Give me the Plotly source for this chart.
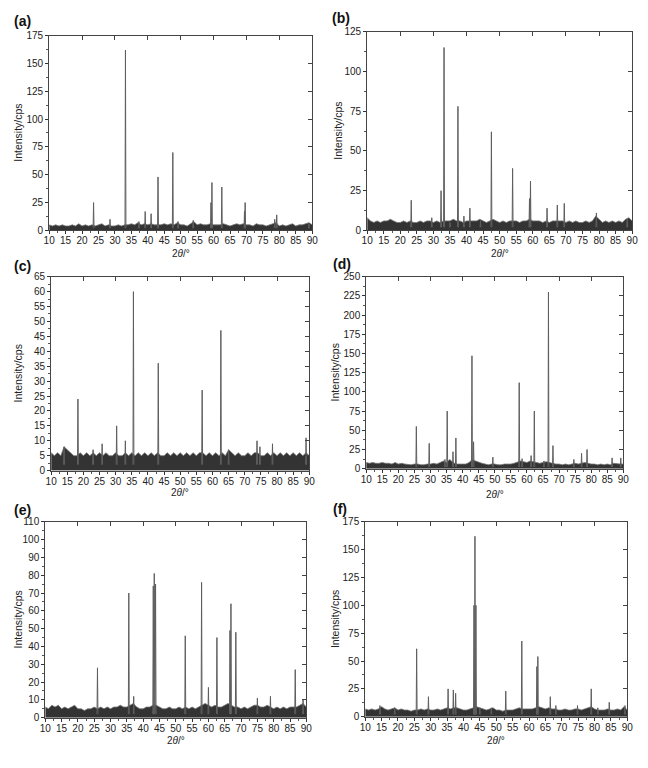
import plotly.graph_objects as go

# ---------------- data ----------------
# baseline grid (2theta, degrees) and noise-band top for each pattern
theta_grid = list(range(10, 91))

bl_a = [5,4,5,4,5,4,4,5,4,6, 4,5,4,5,4,5,6,4,5,4, 4,5,4,5,5,6,5,7,5,6,
        5,6,5,5,5,6,5,6,5,7, 5,5,4,6,8,5,6,5,5,6, 5,5,5,6,5,4,5,6,5,6,
        5,5,4,6,5,5,4,5,6,7, 4,5,4,5,6,4,5,5,6,7, 5]
bl_b = [8,6,5,6,5,6,6,7,6,5, 5,6,5,6,5,5,6,5,6,6, 5,6,5,6,6,6,7,6,6,5,
        6,6,6,6,7,6,5,6,7,6, 5,6,5,6,6,6,5,6,6,7, 6,6,6,5,6,5,6,6,6,6,
        5,6,5,6,5,5,6,5,6,9, 7,5,6,5,6,5,6,5,7,8, 6]
bl_c = [6,5,6,5,8,7,6,5,5,6, 5,6,5,6,5,6,5,6,5,5, 6,5,5,6,5,6,5,6,5,6,
        5,6,5,6,5,5,6,5,6,5, 6,5,6,5,6,5,6,6,5,6, 5,6,5,6,5,7,6,5,6,5,
        5,6,5,6,6,5,5,6,5,6, 5,6,5,6,5,6,5,6,5,6, 5]
bl_d = [8,7,8,7,7,8,7,7,6,8, 6,7,6,5,5,6,6,5,5,6, 6,7,6,8,10,8,12,8,6,6,
        6,6,8,12,10,8,7,6,5,6, 6,5,5,6,6,6,7,8,10,9, 8,10,9,8,7,8,9,8,7,6,
        6,5,6,5,6,7,6,7,8,7, 6,6,5,6,5,6,5,7,6,6, 6]
bl_e = [6,5,7,6,7,5,6,5,6,7, 5,5,4,5,5,6,5,6,5,6, 5,6,6,7,6,6,7,8,6,5,
        5,6,6,7,7,6,5,5,6,5, 5,6,5,6,5,6,5,6,7,8, 7,6,7,6,6,7,8,7,6,6,
        5,6,5,6,7,7,6,6,7,6, 5,6,5,6,5,6,6,6,7,8, 6]
bl_f = [7,6,7,6,7,9,7,6,7,8, 6,7,6,6,5,6,6,7,6,7, 6,6,7,6,7,8,7,8,8,7,
        6,6,7,8,9,8,7,6,7,8, 6,6,5,6,6,6,7,8,7,7, 7,7,8,9,8,7,8,7,7,6,
        6,7,6,6,7,7,6,7,8,9, 7,6,6,6,7,6,6,7,6,9, 6]

# reflections: position (2theta, deg) and intensity (cps)
a_pos = [23.5, 28.5, 33.2, 37.3, 39.2, 41.0, 43.1, 47.6, 49.2, 53.8, 59.2, 59.5, 62.5, 69.4, 69.6, 78.6, 79.2, 89.0]
a_int = [25, 10, 162, 8, 17, 15, 48, 70, 8, 9, 25, 43, 39, 17, 25, 10, 14, 6]

b_pos = [23.3, 29.5, 32.3, 33.2, 35.0, 37.4, 39.2, 41.0, 44.2, 47.5, 53.9, 59.0, 59.3, 64.3, 67.4, 69.5, 79.2, 88.5]
b_int = [19, 8, 25, 115, 5, 78, 9, 14, 6, 62, 39, 20, 31, 14, 16, 17, 11, 7]

c_pos = [14.0, 18.3, 23.0, 25.8, 30.3, 33.0, 35.5, 43.2, 56.8, 62.6, 65.0, 73.8, 74.7, 78.6, 89.0]
c_int = [8, 24, 7, 9, 15, 10, 60, 36, 27, 47, 7, 10, 8, 9, 11]

d_pos = [25.6, 29.6, 34.5, 35.2, 37.0, 37.9, 42.9, 43.4, 49.4, 57.6, 58.5, 61.3, 62.3, 65.3, 66.7, 68.1, 74.6, 77.0, 78.7, 86.5, 89.2]
d_int = [55, 33, 12, 75, 22, 40, 147, 35, 15, 112, 13, 17, 75, 10, 230, 30, 12, 20, 25, 14, 14]

e_pos = [26.0, 35.6, 37.1, 43.1, 43.4, 43.8, 52.9, 57.9, 60.0, 62.6, 66.6, 66.9, 68.4, 75.0, 79.0, 86.6, 89.0]
e_int = [28, 70, 12, 74, 81, 75, 46, 76, 17, 45, 49, 64, 48, 11, 12, 27, 10]

f_pos = [14.5, 19.0, 25.7, 29.3, 35.3, 36.9, 37.6, 43.2, 43.5, 43.8, 45.0, 48.5, 52.9, 57.8, 62.4, 62.7, 66.5, 68.2, 74.8, 79.0, 81.0, 84.5, 89.3]
f_int = [10, 8, 61, 18, 25, 24, 21, 100, 162, 100, 8, 8, 23, 68, 45, 54, 18, 10, 10, 25, 8, 13, 10]

panel_labels = ["(a)", "(b)", "(c)", "(d)", "(e)", "(f)"]
y_max = [175, 125, 65, 250, 110, 175]
y_step = [25, 25, 5, 25, 10, 25]
x_ticks = list(range(10, 95, 5))

# ---------------- layout (pixels) ----------------
W, H = 648, 768
# plot boxes: left, right, top, bottom
boxes = [(44, 312, 30, 228), (368, 638, 26, 228),
         (46, 309, 275, 472), (367, 629, 275, 470),
         (40, 306, 524, 723), (366, 633, 524, 722)]
label_xy = [(6, 15), (330, 12), (6, 264), (331, 262), (6, 512), (331, 511)]
ytitle_x = [12, 338, 12, 335, 12, 335]
xtitle_y = [251, 251, 494, 496, 746, 746]

FONT = "Liberation Sans, Arial, sans-serif"
TXT = "#222222"
HW = 0.14    # half width of a reflection at its base (deg)
BASE = 2.0

series = [(a_pos, a_int, bl_a), (b_pos, b_int, bl_b), (c_pos, c_int, bl_c),
          (d_pos, d_int, bl_d), (e_pos, e_int, bl_e), (f_pos, f_int, bl_f)]

fig = go.Figure()
annotations = []
layout = {}

for i, ((pos, inten, bl), box) in enumerate(zip(series, boxes)):
    n = i + 1
    sfx = "" if n == 1 else str(n)
    xa, ya = "x" + sfx, "y" + sfx
    # overlay axes for the inside ticks on top and right
    on = n + 6
    xo, yo = "x" + str(on), "y" + str(on)

    l, r, t, b = box
    xd = [l / W, r / W]
    yd = [1 - b / H, 1 - t / H]

    # noise band
    fig.add_trace(go.Scatter(x=theta_grid, y=bl, xaxis=xa, yaxis=ya, mode="lines",
                             line=dict(color="#777777", width=0.8), fill="tozeroy",
                             fillcolor="#333333", hoverinfo="skip", showlegend=False))
    # reflections
    xs, ys = [], []
    for p, h in zip(pos, inten):
        xs += [p - HW, p, p + HW, None]
        ys += [BASE, h, BASE, None]
    fig.add_trace(go.Scatter(x=xs, y=ys, xaxis=xa, yaxis=ya, mode="lines",
                             line=dict(color="#5e5e5e", width=1),
                             hoverinfo="skip", showlegend=False))
    # dummy for overlay axes
    fig.add_trace(go.Scatter(x=[10, 90], y=[0, y_max[i]], xaxis=xo, yaxis=yo, mode="lines",
                             line=dict(width=0), hoverinfo="skip", showlegend=False))

    common_tick = dict(tickfont=dict(family=FONT, size=10, color=TXT),
                       tickcolor="#333", showgrid=False, zeroline=False)
    layout["xaxis" + sfx] = dict(domain=xd, anchor=ya, range=[10, 90], tickmode="array",
                                 tickvals=x_ticks, ticktext=[str(v) for v in x_ticks],
                                 ticks="outside", ticklen=3, tickwidth=0.8, ticklabelstandoff=-2,
                                 showline=True, linecolor="#444", linewidth=1, mirror=True,
                                 minor=dict(ticks="outside", ticklen=2, dtick=2.5, tickcolor="#555"),
                                 **common_tick)
    layout["yaxis" + sfx] = dict(domain=yd, anchor=xa, range=[0, y_max[i]], tick0=0, dtick=y_step[i],
                                 ticks="outside", ticklen=3, tickwidth=0.8,
                                 showline=True, linecolor="#444", linewidth=1, mirror=True,
                                 minor=dict(ticks="outside", ticklen=2, dtick=y_step[i] / 2, tickcolor="#555"),
                                 **common_tick)
    layout["xaxis" + str(on)] = dict(domain=xd, anchor=yo, overlaying=xa, side="top", range=[10, 90],
                                     tick0=10, dtick=10, ticks="inside", ticklen=4, tickcolor="#444",
                                     showticklabels=False, showgrid=False, zeroline=False, showline=False)
    layout["yaxis" + str(on)] = dict(domain=yd, anchor=xo, overlaying=ya, side="right",
                                     range=[0, y_max[i]], tick0=0, dtick=y_step[i], ticks="inside",
                                     ticklen=4, tickcolor="#444", showticklabels=False,
                                     showgrid=False, zeroline=False, showline=False)

    # titles and panel labels
    annotations.append(dict(x=label_xy[i][0] / W, y=1 - label_xy[i][1] / H, xref="paper", yref="paper",
                            text="<b>" + panel_labels[i] + "</b>", showarrow=False,
                            xanchor="left", yanchor="middle",
                            font=dict(family=FONT, size=14, color="#111")))
    annotations.append(dict(x=ytitle_x[i] / W, y=1 - (t + b) / 2 / H, xref="paper", yref="paper",
                            text="Intensity/cps", textangle=-90, showarrow=False,
                            xanchor="center", yanchor="middle",
                            font=dict(family=FONT, size=10.5, color=TXT)))
    annotations.append(dict(x=(l + r) / 2 / W, y=1 - xtitle_y[i] / H, xref="paper", yref="paper",
                            text="2<i>θ</i>/°", showarrow=False, xanchor="center", yanchor="middle",
                            font=dict(family=FONT, size=10, color=TXT)))

fig.update_layout(width=W, height=H, margin=dict(l=0, r=0, t=0, b=0),
                  paper_bgcolor="white", plot_bgcolor="white",
                  annotations=annotations, showlegend=False, **layout)

fig.write_html("out.html")
